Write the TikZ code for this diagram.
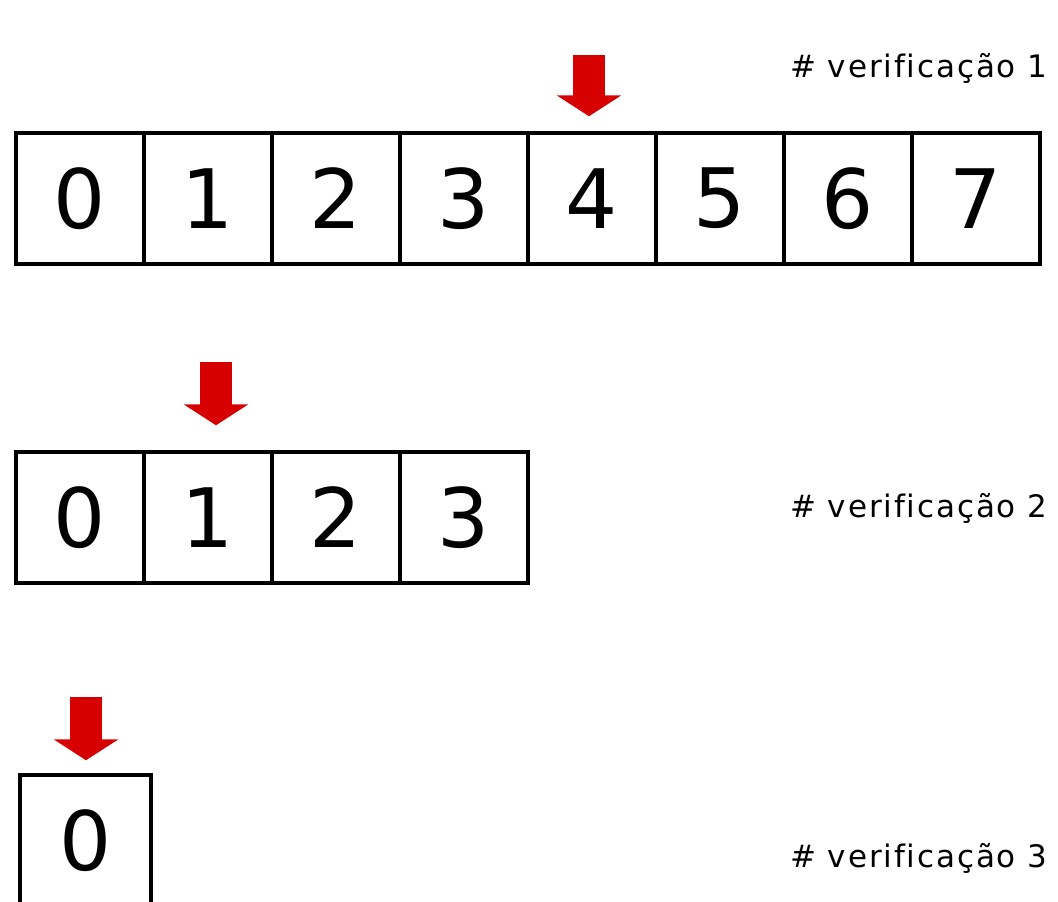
\documentclass[tikz,border=0pt]{standalone}
\usepackage{fontspec}
\setmainfont{DejaVu Sans}
\newfontfamily\notefont[LetterSpace=6,Ligatures=NoCommon]{DejaVu Sans}
\usepackage{xcolor}
\usetikzlibrary{arrows.meta,positioning}

\definecolor{ptred}{RGB}{214,0,0}

\begin{document}
\begin{tikzpicture}[
		x=1pt,
		y=-1pt,
		line join=miter,
		cell/.style={
			draw=black,
			line width=3.5pt,
			minimum width=128pt,
			minimum height=131pt,
			inner sep=0pt,
			font=\fontsize{82}{90}\selectfont
		},
		pointer/.style={
			draw=ptred,
			line width=32pt,
			-{Triangle[width=64pt,length=21pt]}
		},
		note/.style={
			anchor=base west,
			inner sep=0pt,
			font=\notefont\fontsize{31}{36}\selectfont
		}
		]
		
		% background
		\fill[white] (0,0) rectangle (1058,902);
		\useasboundingbox (0,0) rectangle (1058,902);
		
		% first row
		\foreach \i in {0,...,7}
			\node[cell] (a\i) at (80+128*\i, 198.5) {\i};
		
		% second row
		\foreach \i in {0,...,3}
			\node[cell] (b\i) at (80+128*\i, 517.5) {\i};
		
		% third row
		\node[cell, minimum width=131pt] (c0) at (85.5, 840.5) {0};
		
		% pointer tails
		\coordinate (p1) at (589, 55);
		\coordinate (p2) at (216, 362);
		\coordinate (p3) at (86, 697);
		
		% pointers
		\draw[pointer, shorten >=15pt] (p1) -- (p1 |- a4.north);
		\draw[pointer, shorten >=25pt] (p2) -- (p2 |- b1.north);
		\draw[pointer, shorten >=13pt] (p3) -- (p3 |- c0.north);
		
		% labels
		\node[note] (n1) at (790, 77) {\# verificação 1};
		\node[note] (n2) at (790, 517) {\# verificação 2};
		\node[note] (n3) at (790, 867) {\# verificação 3};
	\end{tikzpicture}
\end{document}
